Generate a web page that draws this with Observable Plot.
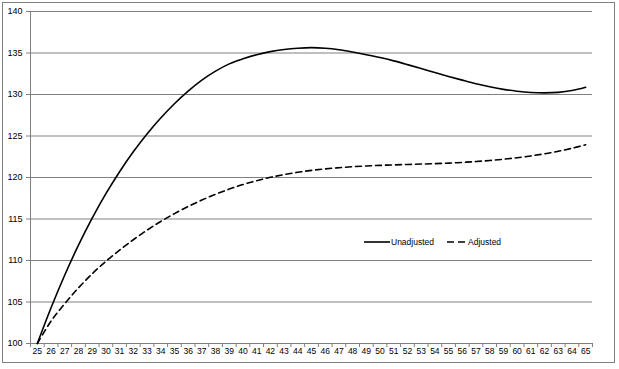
<!DOCTYPE html>
<html>
<head>
<meta charset="utf-8">
<script src="https://cdn.jsdelivr.net/npm/d3@7"></script>
<script src="https://cdn.jsdelivr.net/npm/@observablehq/plot@0.6"></script>
<style>
  html, body { margin: 0; padding: 0; background: #fff; }
  #wrap { position: relative; width: 619px; height: 369px; font-family: "Liberation Sans", Arial, sans-serif; }
  #border { position: absolute; left: 2px; top: 2px; width: 611px; height: 359px; border: 1px solid #808080; pointer-events: none; }
  #legend { position: absolute; left: 364px; top: 237px; font-size: 8.5px; color: #000; display: flex; align-items: center; white-space: nowrap; }
  #legend svg { display: block; }
  #legend span.first { margin-left: 1px; margin-right: 13px; }
  #legend span.second { margin-left: 3px; }
</style>
</head>
<body>
<div id="wrap">
  <div id="chart"></div>
  <div id="border"></div>
  <div id="legend"></div>
</div>
<script>
const ages = d3.range(25, 66);
const unadjusted = [100, 104.3, 108.25, 111.85, 115.1, 118.05, 120.7, 123.1, 125.25, 127.17,
  128.89, 130.41, 131.73, 132.81, 133.69, 134.3, 134.8, 135.17, 135.42, 135.58,
  135.65, 135.58, 135.4, 135.12, 134.8, 134.45, 134.05, 133.6, 133.13, 132.65,
  132.18, 131.73, 131.3, 130.93, 130.62, 130.4, 130.25, 130.2, 130.26, 130.48, 130.88];
const adjusted = [100, 102.7, 104.8, 106.7, 108.4, 109.9, 111.25, 112.5, 113.65, 114.7,
  115.65, 116.5, 117.28, 117.98, 118.6, 119.15, 119.62, 120.02, 120.35, 120.63,
  120.86, 121.04, 121.18, 121.3, 121.39, 121.46, 121.52, 121.57, 121.62, 121.67,
  121.73, 121.82, 121.92, 122.05, 122.2, 122.38, 122.6, 122.86, 123.16, 123.52, 123.95];
const yTicks = [100, 105, 110, 115, 120, 125, 130, 135, 140];
const seriesNames = ["Unadjusted", "Adjusted"];

const rows = [];
ages.forEach((a, i) => {
  rows.push({age: a, value: unadjusted[i], series: seriesNames[0]});
  rows.push({age: a, value: adjusted[i], series: seriesNames[1]});
});
const boundaries = ages.map(a => a - 0.5).concat([ages[ages.length - 1] + 0.5]);

const chart = Plot.plot({
  width: 619,
  height: 369,
  marginLeft: 30,
  marginRight: 27,
  marginTop: 11,
  marginBottom: 26,
  style: {fontFamily: "Liberation Sans, Arial, sans-serif", fontSize: "9px", color: "#000", background: "#fff"},
  x: {domain: [24.5, 65.5]},
  y: {domain: [100, 140]},
  marks: [
    Plot.gridY(yTicks, {stroke: "#808080", strokeOpacity: 1, strokeWidth: 1}),
    Plot.frame({anchor: "left", stroke: "#808080"}),
    Plot.frame({anchor: "bottom", stroke: "#808080"}),
    Plot.axisY({ticks: yTicks, tickSize: 4, tickPadding: 4, stroke: "#808080", label: null, fill: "#000", fontSize: 9}),
    Plot.axisX({ticks: boundaries, tickSize: 4, tickFormat: () => "", stroke: "#808080", label: null}),
    Plot.axisX({ticks: ages, tickSize: 0, tickPadding: 4, label: null, fill: "#000", fontSize: 8.5, tickFormat: d => String(d), style: {letterSpacing: "-0.4px"}}),
    Plot.line(rows.filter(d => d.series === seriesNames[0]), {x: "age", y: "value", stroke: "#000", strokeWidth: 1.6, curve: "catmull-rom"}),
    Plot.line(rows.filter(d => d.series === seriesNames[1]), {x: "age", y: "value", stroke: "#000", strokeWidth: 1.6, strokeDasharray: "6,4", curve: "catmull-rom"})
  ]
});
document.getElementById("chart").appendChild(chart);

const legend = document.getElementById("legend");
seriesNames.forEach((name, i) => {
  const ns = "http://www.w3.org/2000/svg";
  const s = document.createElementNS(ns, "svg");
  const w = i === 0 ? 26 : 18;
  s.setAttribute("width", w);
  s.setAttribute("height", 8);
  const l = document.createElementNS(ns, "line");
  l.setAttribute("x1", 0); l.setAttribute("x2", w);
  l.setAttribute("y1", 4); l.setAttribute("y2", 4);
  l.setAttribute("stroke", "#000");
  l.setAttribute("stroke-width", 1.6);
  if (i === 1) l.setAttribute("stroke-dasharray", "7,4");
  s.appendChild(l);
  legend.appendChild(s);
  const t = document.createElement("span");
  t.className = i === 0 ? "first" : "second";
  t.textContent = name;
  legend.appendChild(t);
});
</script>
</body>
</html>
